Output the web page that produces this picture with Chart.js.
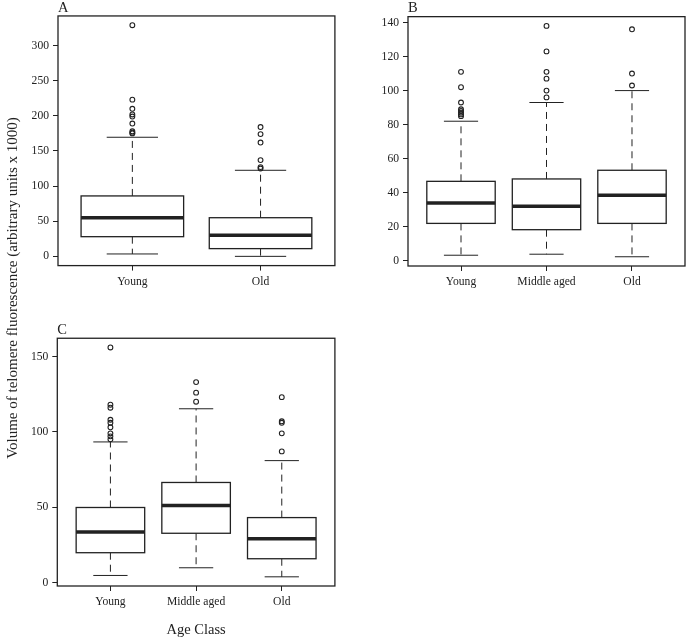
<!DOCTYPE html>
<html>
<head>
<meta charset="utf-8">
<script src="https://cdn.jsdelivr.net/npm/chart.js@4/dist/chart.umd.min.js"></script>
<style>
  body { margin: 0; background: #fff; }
  #wrap { position: relative; width: 693px; height: 641px; overflow: hidden; }
  canvas { position: absolute; }
  #ytitle {
    position: absolute; left: -188px; top: 279px; width: 400px; text-align: center;
    font-family: "Liberation Serif", serif; font-size: 15px; font-weight: normal;
    line-height: 18px; color: #222;
    transform: rotate(-90deg); transform-origin: center;
  }
</style>
</head>
<body>
<div id="wrap">
  <canvas id="chartA" width="340" height="300" style="left:0;top:0"></canvas>
  <canvas id="chartB" width="353" height="300" style="left:340px;top:0"></canvas>
  <canvas id="chartC" width="340" height="341" style="left:0;top:300px"></canvas>
  <div id="ytitle">Volume of telomere fluorescence (arbitrary units x 1000)</div>
</div>
<script>
// panel A: two age classes
const catsA = ['Young', 'Old'];
const lowA  = [3.4, 0];
const q1A   = [28, 11];
const medA  = [55, 30];
const q3A   = [86, 55];
const highA = [169.5, 122.5];
const outA  = [
  [175, 176, 178, 189, 199, 202, 210, 223, 329],
  [125, 127, 137, 162, 174, 184]
];
const ticksA = [0, 50, 100, 150, 200, 250, 300];

// panel B
const catsB = ['Young', 'Middle aged', 'Old'];
const lowB  = [3.3, 3.9, 2.4];
const q1B   = [22, 18.3, 22];
const medB  = [34, 32, 38.5];
const q3B   = [46.7, 48.1, 53.2];
const highB = [82, 93, 100];
const outB  = [
  [85, 86, 87, 88, 89, 93, 102, 111],
  [96, 100, 107, 111, 123, 138],
  [103, 110, 136]
];
const ticksB = [0, 20, 40, 60, 80, 100, 120, 140];

// panel C
const catsC = ['Young', 'Middle aged', 'Old'];
const lowC  = [4.7, 9.8, 3.8];
const q1C   = [19.8, 32.7, 15.8];
const medC  = [33.6, 51.1, 29.1];
const q3C   = [49.8, 66.4, 43.1];
const highC = [93.3, 115.3, 80.9];
const outC  = [
  [95, 97, 99, 103, 106, 108, 116, 118, 156],
  [120, 126, 133],
  [87, 99, 106, 107, 123]
];
const ticksC = [0, 50, 100, 150];

const INK = '#222';
Chart.defaults.font.family = '"Liberation Serif", "Times New Roman", serif';
Chart.defaults.color = INK;

// draws boxes, whiskers and the frame using the chart's scales
const boxPlugin = {
  id: 'boxes',
  beforeDatasetsDraw(chart, args, o) {
    const { ctx, scales: { x, y } } = chart;
    ctx.save();
    ctx.strokeStyle = INK;
    o.cats.forEach((c, i) => {
      const cx = x.getPixelForValue(i + 1);
      const bl = x.getPixelForValue(i + 1 - 0.4), br = x.getPixelForValue(i + 1 + 0.4);
      const sl = x.getPixelForValue(i + 1 - 0.2), sr = x.getPixelForValue(i + 1 + 0.2);
      const yl = y.getPixelForValue(o.low[i]), y1 = y.getPixelForValue(o.q1[i]);
      const ym = y.getPixelForValue(o.med[i]), y3 = y.getPixelForValue(o.q3[i]);
      const yh = y.getPixelForValue(o.high[i]);
      // whiskers
      ctx.lineWidth = 1;
      ctx.setLineDash([7, 5]);
      ctx.beginPath();
      ctx.moveTo(cx, y3); ctx.lineTo(cx, yh);
      ctx.moveTo(cx, y1); ctx.lineTo(cx, yl);
      ctx.stroke();
      ctx.setLineDash([]);
      ctx.beginPath();
      ctx.moveTo(sl, yh); ctx.lineTo(sr, yh);
      ctx.moveTo(sl, yl); ctx.lineTo(sr, yl);
      ctx.stroke();
      // box
      ctx.fillStyle = '#fff';
      ctx.fillRect(bl, y3, br - bl, y1 - y3);
      ctx.lineWidth = 1.3;
      ctx.strokeRect(bl, y3, br - bl, y1 - y3);
      // median
      ctx.lineWidth = 3.5;
      ctx.beginPath();
      ctx.moveTo(bl, ym); ctx.lineTo(br, ym);
      ctx.stroke();
    });
    ctx.restore();
  },
  afterDraw(chart) {
    const { ctx, chartArea: a } = chart;
    ctx.save();
    ctx.strokeStyle = INK;
    ctx.lineWidth = 1.3;
    ctx.strokeRect(a.left, a.top, a.right - a.left, a.bottom - a.top);
    ctx.restore();
  }
};

function makePanel(id, letter, cats, low, q1, med, q3, high, outs, yTicks, lay) {
  const all = low.concat(high, outs.flat());
  const lo = Math.min(...all), hi = Math.max(...all);
  const ext = (hi - lo) * 0.04;
  const n = cats.length;
  const pts = [];
  outs.forEach((arr, i) => arr.forEach(v => pts.push({ x: i + 1, y: v })));

  return new Chart(document.getElementById(id), {
    type: 'scatter',
    data: {
      datasets: [{
        data: pts,
        pointStyle: 'circle',
        pointRadius: 2.4,
        borderWidth: 1.1,
        borderColor: INK,
        backgroundColor: 'rgba(255,255,255,0)'
      }]
    },
    options: {
      responsive: false,
      animation: false,
      events: [],
      layout: { padding: { top: lay.padTop, right: lay.padRight, left: 0, bottom: 0 } },
      plugins: {
        legend: { display: false },
        tooltip: { enabled: false },
        title: {
          display: true, text: letter, align: 'start', fullSize: false,
          font: { size: 14.5, weight: 'normal', lineHeight: 1.1 },
          padding: { top: 0, bottom: 0 }, color: INK
        },
        boxes: { cats, low, q1, med, q3, high }
      },
      scales: {
        x: {
          type: 'linear',
          min: 0.5 - 0.04 * n,
          max: n + 0.5 + 0.04 * n,
          afterBuildTicks: s => { s.ticks = cats.map((c, i) => ({ value: i + 1 })); },
          afterFit: s => { s.height = lay.xHeight; },
          ticks: { callback: v => cats[v - 1], font: { size: 11.6 }, padding: 4, maxRotation: 0, autoSkip: false },
          grid: { drawOnChartArea: false, drawTicks: true, tickLength: 5, tickColor: INK, tickWidth: 1 },
          border: { display: false },
          title: lay.xTitle ? {
            display: true, text: lay.xTitle, font: { size: 14.5 }, padding: { top: 0, bottom: 2 }, color: INK
          } : { display: false }
        },
        y: {
          min: lo - ext,
          max: hi + ext,
          afterBuildTicks: s => { s.ticks = yTicks.map(v => ({ value: v })); },
          afterFit: s => { s.width = lay.yWidth; },
          ticks: { font: { size: 11.6 }, padding: 4 },
          grid: { drawOnChartArea: false, drawTicks: true, tickLength: 5, tickColor: INK, tickWidth: 1 },
          border: { display: false }
        }
      }
    },
    plugins: [boxPlugin]
  });
}

makePanel('chartA', 'A', catsA, lowA, q1A, medA, q3A, highA, outA, ticksA,
  { padTop: 0, padRight: 5, xHeight: 34.4, yWidth: 58 });
makePanel('chartB', 'B', catsB, lowB, q1B, medB, q3B, highB, outB, ticksB,
  { padTop: 0.7, padRight: 8, xHeight: 34, yWidth: 68 });
makePanel('chartC', 'C', catsC, lowC, q1C, medC, q3C, highC, outC, ticksC,
  { padTop: 22.3, padRight: 5, xHeight: 55, yWidth: 57.3, xTitle: 'Age Class' });
</script>
</body>
</html>
